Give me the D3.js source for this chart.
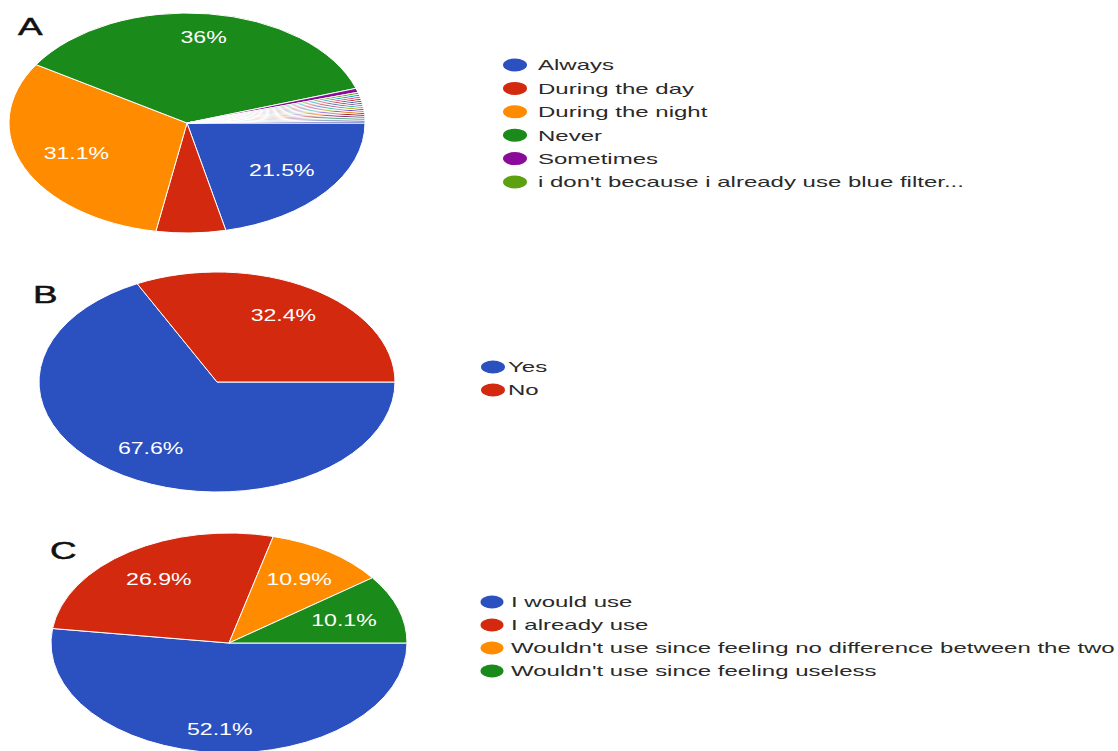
<!DOCTYPE html>
<html>
<head>
<meta charset="utf-8">
<script src="https://cdn.jsdelivr.net/npm/d3@7"></script>
<style>
  html, body { margin: 0; background: #fff; }
  svg { display: block; }
  text { font-family: "Liberation Sans", Arial, sans-serif; }
</style>
</head>
<body>
<svg id="chart" width="1118" height="751"></svg>
<script>
// ---- Survey answers (percent of respondents) ----
const panelIds = ["A", "B", "C"];

// A: when the blue-light filter is used
const catsA = ["Always", "During the day", "During the night", "Never", "Sometimes",
               "i don't because i already use blue filter..."];
const valsA = [21.5, 6.3, 31.1, 36, 0.6, 0.3];
const colsA = ["#2b50c0", "#d2290f", "#ff8c00", "#1a8a1a", "#8a0a9a", "#5da010"];
// A: single free-text answers, each a very thin slice (not in the legend)
const otherValsA = [0.3, 0.3, 0.3, 0.3, 0.3, 0.3, 0.3, 0.3, 0.3, 0.3, 0.3, 0.3, 0.3, 0.3];
const otherColsA = ["#0099c6", "#dd4477", "#b82e2e", "#316395", "#994499", "#22aa99", "#aaaa11",
                    "#6633cc", "#e67300", "#8b0707", "#651067", "#329262", "#5574a6", "#3b3eac"];

// B: yes / no
const catsB = ["Yes", "No"];
const valsB = [67.6, 32.4];
const colsB = ["#2b50c0", "#d2290f"];

// C: willingness to use
const catsC = ["I would use", "I already use",
               "Wouldn't use since feeling no difference between the two",
               "Wouldn't use since feeling useless"];
const valsC = [52.1, 26.9, 10.9, 10.1];
const colsC = ["#2b50c0", "#d2290f", "#ff8c00", "#1a8a1a"];

// ---- Layout ----
const RX = 178, RY = 110;           // pies are drawn as stretched ellipses
const LABEL_MIN = 10;               // slices below this share carry no label
const layout = {
  A: { cx: 187, cy: 123, titleX: 18, titleY: 35,  legX: 515, legTextX: 538, legY: 65,  legStep: 23.4, mrx: 12, mry: 6.5 },
  B: { cx: 217, cy: 382, titleX: 33, titleY: 303, legX: 493, legTextX: 508, legY: 367, legStep: 23,   mrx: 12, mry: 6.5 },
  C: { cx: 229, cy: 643, titleX: 50, titleY: 559, legX: 492, legTextX: 511, legY: 602, legStep: 23,   mrx: 11.5, mry: 6.5 }
};

const panels = {
  A: {
    slices: valsA.map((v, i) => ({ v, color: colsA[i], label: true }))
      .concat(otherValsA.map((v, i) => ({ v, color: otherColsA[i], label: false }))),
    legend: catsA.map((c, i) => ({ name: c, color: colsA[i] }))
  },
  B: {
    slices: valsB.map((v, i) => ({ v, color: colsB[i], label: true })),
    legend: catsB.map((c, i) => ({ name: c, color: colsB[i] }))
  },
  C: {
    slices: valsC.map((v, i) => ({ v, color: colsC[i], label: true })),
    legend: catsC.map((c, i) => ({ name: c, color: colsC[i] }))
  }
};

const svg = d3.select("#chart");

// slices start at 3 o'clock and run clockwise
const pie = d3.pie().sort(null).value(d => d.v)
  .startAngle(Math.PI / 2).endAngle(Math.PI / 2 + 2 * Math.PI);
const arc = d3.arc().innerRadius(0).outerRadius(RY);

panelIds.forEach(id => {
  const L = layout[id], P = panels[id];

  // panel letter
  svg.append("text")
    .attr("transform", `translate(${L.titleX},${L.titleY}) scale(1.6,1)`)
    .attr("font-size", 23)
    .attr("fill", "#111")
    .attr("stroke", "#111").attr("stroke-width", 0.5)
    .text(id);

  const g = svg.append("g").attr("transform", `translate(${L.cx},${L.cy})`);
  const pg = g.append("g").attr("transform", `scale(${RX / RY},1)`);
  const arcs = pie(P.slices);

  pg.selectAll("path")
    .data(arcs)
    .join("path")
    .attr("d", arc)
    .attr("fill", d => d.data.color)
    .attr("stroke", "#fff")
    .attr("stroke-width", 1)
    .attr("vector-effect", "non-scaling-stroke");

  // percentage labels, pushed slightly outward near the top and bottom
  g.selectAll("text.pct")
    .data(arcs.filter(d => d.data.label && d.data.v >= LABEL_MIN))
    .join("text")
    .attr("class", "pct")
    .attr("transform", d => {
      const a = (d.startAngle + d.endAngle) / 2;
      const f = 0.68 + 0.11 * Math.pow(Math.abs(Math.cos(a)), 8);
      const x = Math.sin(a) * RX * f;
      const y = -Math.cos(a) * RY * f;
      return `translate(${x},${y}) scale(1.4,1)`;
    })
    .attr("text-anchor", "middle")
    .attr("dy", "0.36em")
    .attr("font-size", 16.5)
    .attr("fill", "#fff")
    .text(d => d.data.v + "%");

  // legend
  const lg = svg.append("g");
  const rows = lg.selectAll("g")
    .data(P.legend)
    .join("g")
    .attr("transform", (d, i) => `translate(0,${L.legY + i * L.legStep})`);
  rows.append("ellipse")
    .attr("cx", L.legX).attr("cy", 0)
    .attr("rx", L.mrx).attr("ry", L.mry)
    .attr("fill", d => d.color);
  rows.append("text")
    .attr("transform", `translate(${L.legTextX},0) scale(1.6,1)`)
    .attr("dy", "0.36em")
    .attr("font-size", 15)
    .attr("fill", "#2a2a2a")
    .text(d => d.name);
});
</script>
</body>
</html>
